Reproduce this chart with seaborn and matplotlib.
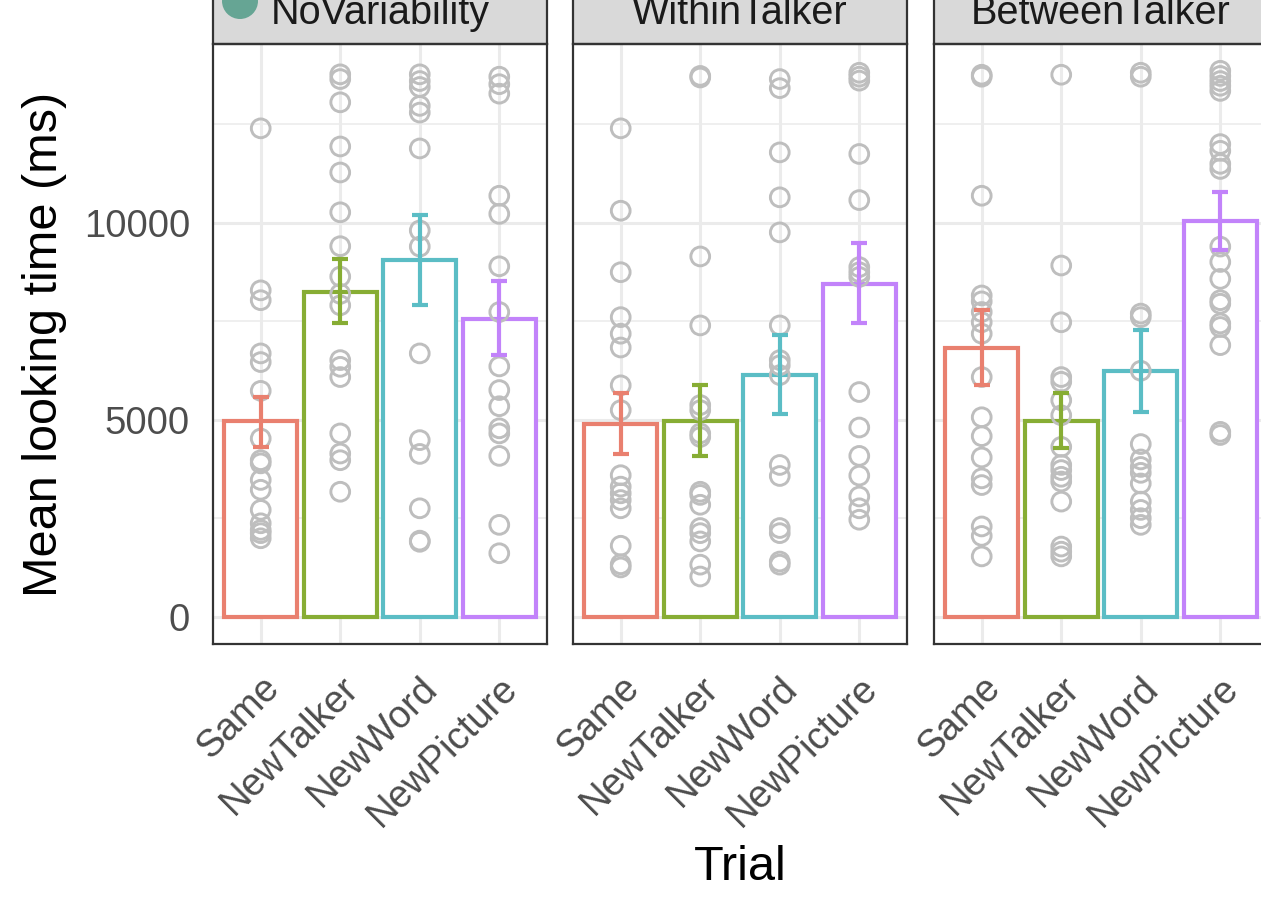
import matplotlib
matplotlib.use("Agg")
import matplotlib.pyplot as plt
from matplotlib.patches import Rectangle, Ellipse
from matplotlib.ticker import FuncFormatter
import seaborn as sns
import pandas as pd
import numpy as np

# facets and trial types
conditions = ["NoVariability", "WithinTalker", "BetweenTalker"]
trials = ["Same", "NewTalker", "NewWord", "NewPicture"]
colors = ["#E9806F", "#87AD34", "#5BBDC5", "#C283FA"]

# individual looking times (ms)
nov_same = [12390, 8280, 8030, 6680, 6460, 5730, 4520, 3970, 3890, 3470, 3220, 2710, 2370, 2200, 2120, 1990]
nov_newtalker = [13760, 13640, 13050, 11930, 11270, 10260, 9400, 8630, 8190, 7900, 6510, 6340, 6080, 4650, 4140, 3970, 3170]
nov_newword = [13760, 13590, 13440, 12960, 12790, 11880, 9800, 9390, 6680, 4480, 4130, 2750, 1930, 1900]
nov_newpicture = [13700, 13510, 13270, 10680, 10220, 8890, 7730, 6350, 5750, 5340, 4780, 4650, 4080, 2330, 1610]

wt_same = [12390, 10300, 8740, 7600, 7180, 6830, 5870, 5240, 3590, 3300, 3130, 2960, 2750, 1800, 1330, 1250]
wt_newtalker = [13720, 13680, 9140, 7390, 5370, 5240, 4650, 4560, 3170, 3090, 2840, 2250, 2120, 1910, 1320, 1020]
wt_newword = [13640, 13410, 11780, 10640, 9750, 7390, 6510, 6380, 6130, 3850, 3570, 2250, 2120, 1400, 1320]
wt_newpicture = [13800, 13700, 13600, 11740, 10570, 8870, 8740, 8620, 5700, 4800, 4080, 3580, 3050, 2750, 2460]

bt_same = [13750, 13700, 10680, 8150, 8000, 7730, 7470, 7180, 6080, 5060, 4580, 4040, 3510, 3340, 2290, 2050, 1530]
bt_newtalker = [13750, 8910, 7470, 6080, 5960, 5490, 5110, 4310, 3850, 3720, 3550, 3430, 2920, 1780, 1650, 1530]
bt_newword = [13800, 13700, 7690, 7600, 6240, 4380, 3990, 3800, 3650, 3380, 2920, 2710, 2500, 2330]
bt_newpicture = [13850, 13720, 13590, 13470, 13340, 11990, 11820, 11490, 11360, 9390, 9000, 8570, 8030,
                 7940, 7440, 7350, 6890, 4690, 4610]

# bar heights and error bar ends (ms)
nov_mean = [4960, 8250, 9050, 7560]
nov_lo = [4310, 7450, 7920, 6630]
nov_hi = [5580, 9080, 10180, 8510]
wt_mean = [4890, 4970, 6130, 8450]
wt_lo = [4120, 4080, 5140, 7450]
wt_hi = [5680, 5870, 7140, 9480]
bt_mean = [6820, 4970, 6240, 10030]
bt_lo = [5870, 4270, 5200, 9310]
bt_hi = [7770, 5680, 7280, 10770]

points = {
    "NoVariability": [nov_same, nov_newtalker, nov_newword, nov_newpicture],
    "WithinTalker": [wt_same, wt_newtalker, wt_newword, wt_newpicture],
    "BetweenTalker": [bt_same, bt_newtalker, bt_newword, bt_newpicture],
}
summary = {
    "NoVariability": (nov_mean, nov_lo, nov_hi),
    "WithinTalker": (wt_mean, wt_lo, wt_hi),
    "BetweenTalker": (bt_mean, bt_lo, bt_hi),
}

rows = []
for cond in conditions:
    for t, vals in zip(trials, points[cond]):
        for v in vals:
            rows.append({"Condition": cond, "Trial": t, "ms": v})
df = pd.DataFrame(rows)

sns.set_theme(style="white")
plt.rcParams['font.family'] = ['Liberation Sans', 'DejaVu Sans']

W, H = 1261, 909
fig = plt.figure(figsize=(W / 100, H / 100), dpi=100)

ymax = df["ms"].max()
ylims = (-0.05 * ymax, 1.05 * ymax)

panel_left = [213, 573, 934]
panel_w, panel_h, panel_bottom = 334, 600.5, 644

for i, cond in enumerate(conditions):
    ax = fig.add_axes([panel_left[i] / W, 1 - panel_bottom / H, panel_w / W, panel_h / H])
    means, lo, hi = summary[cond]
    summ = pd.DataFrame({"Trial": trials, "mean": means})

    sns.barplot(data=summ, x="Trial", y="mean", hue="Trial", order=trials, hue_order=trials,
                palette=colors, fill=False, width=0.92, linewidth=3.0, errorbar=None,
                legend=False, ax=ax)
    for p in ax.patches:
        p.set_facecolor("white")
        p.set_zorder(2)

    n_before = len(ax.collections)
    sns.stripplot(data=df[df["Condition"] == cond], x="Trial", y="ms", order=trials,
                  jitter=False, size=13.5, color="#BEBEBE", ax=ax, zorder=3)
    for coll in ax.collections[n_before:]:
        coll.set_facecolor("none")
        coll.set_edgecolor("#BEBEBE")
        coll.set_linewidth(2.1)

    for j in range(len(trials)):
        ax.errorbar(j, means[j], yerr=[[means[j] - lo[j]], [hi[j] - means[j]]], fmt="none",
                    ecolor=colors[j], elinewidth=3.0, capsize=6, capthick=3.0, zorder=4)

    ax.set_xlim(-0.6, 3.6)
    ax.set_ylim(*ylims)
    ax.set_yticks([0, 5000, 10000])
    ax.set_yticks([2500, 7500, 12500], minor=True)
    ax.yaxis.set_major_formatter(FuncFormatter(lambda v, p: f"{v:.0f}"))
    ax.set_axisbelow(True)
    ax.grid(which="major", color="#EBEBEB", linewidth=2.2)
    ax.grid(which="minor", axis="y", color="#EBEBEB", linewidth=1.1)
    ax.set_xlabel("")
    ax.set_ylabel("")

    ax.set_xticks(range(len(trials)))
    ax.set_xticklabels(trials, rotation=45, ha="right", va="top", rotation_mode="anchor")
    ax.tick_params(axis="both", which="major", length=8.6, width=2, color="#333333",
                   labelsize=27.5, labelcolor="#4D4D4D")
    ax.tick_params(axis="x", pad=10)
    ax.tick_params(axis="y", which="minor", length=0)
    ax.tick_params(axis="y", pad=8)
    if i > 0:
        ax.tick_params(axis="y", left=False, labelleft=False)

    for s in ax.spines.values():
        s.set_color("#333333")
        s.set_linewidth(1.6)
        s.set_zorder(5)

    # facet strip
    ax.add_patch(Rectangle((0, 1), 1, 70 / panel_h, transform=ax.transAxes, facecolor="#D9D9D9",
                           edgecolor="#333333", linewidth=1.6, clip_on=False, zorder=5))
    ax.text(0.5, 1 + 31 / panel_h, cond, transform=ax.transAxes, ha="center", va="center",
            fontsize=28.5, color="#1A1A1A", zorder=6)

fig.text(740 / W, 1 - 868 / H, "Trial", ha="center", va="center", fontsize=35, color="black")
fig.text(45 / W, 1 - 344 / H, "Mean looking time (ms)", ha="center", va="center",
         rotation=90, fontsize=35, color="black")

# legend key peeking in at the top
fig.add_artist(Ellipse((240 / W, 1 - 1 / H), 36 / W, 36 / H, transform=fig.transFigure,
                       facecolor="#66A594", edgecolor="none", zorder=10))

fig.savefig("out.png", dpi=100)
